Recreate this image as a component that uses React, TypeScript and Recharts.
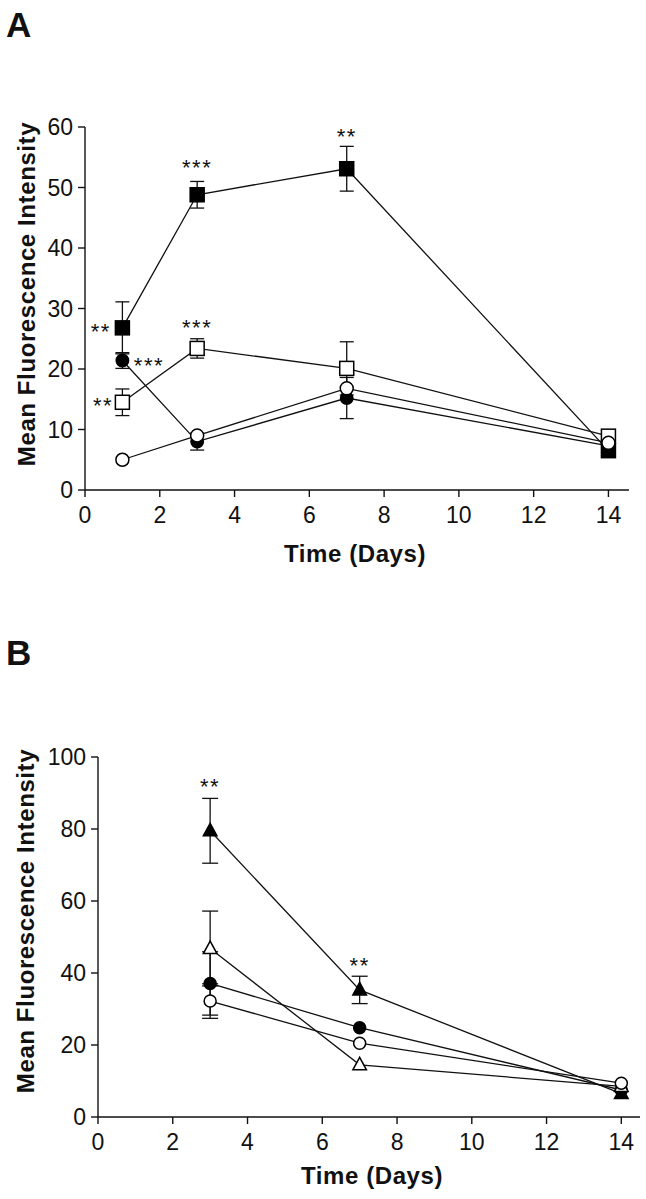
import React from "react";
import {
  ComposedChart,
  Line,
  Scatter,
  XAxis,
  YAxis,
  ErrorBar,
} from "recharts";

const FONT = "'Liberation Sans', Arial, Helvetica, sans-serif";

// Panel A
const daysA = [1, 3, 7, 14];
const aFilledSquare = [26.8, 48.8, 53.1, 6.5];
const aFilledSquareErr = [4.3, 2.2, 3.7, null];
const aFilledCircle = [21.4, 8.0, 15.2, 7.3];
const aFilledCircleErr = [1.3, 1.4, 3.4, null];
const aOpenSquare = [14.5, 23.4, 20.1, 8.9];
const aOpenSquareErr = [2.2, 1.6, 4.4, null];
const aOpenCircle = [5.0, 9.0, 16.8, 7.8];
const aOpenCircleErr = [null, null, null, null];
const aTicksX = [0, 2, 4, 6, 8, 10, 12, 14];
const aTicksY = [0, 10, 20, 30, 40, 50, 60];
const aStarX = [0.42, 1.71, 0.48, 3, 3, 7];
const aStarY = [26.9, 21.4, 14.7, 54.0, 27.65, 59.2];
const aStarText = ["**", "***", "**", "***", "***", "**"];

// Panel B
const daysB = [3, 7, 14];
const bFilledTriangle = [79.5, 35.3, 6.5];
const bFilledTriangleErr = [9.0, 3.8, null];
const bOpenTriangle = [46.8, 14.5, 8.5];
const bOpenTriangleErr = [10.4, null, null];
const bFilledCircle = [37.1, 24.8, 7.5];
const bFilledCircleErr = [8.8, null, null];
const bOpenCircle = [32.2, 20.5, 9.4];
const bOpenCircleErr = [4.8, null, null];
const bTicksX = [0, 2, 4, 6, 8, 10, 12, 14];
const bTicksY = [0, 20, 40, 60, 80, 100];
const bStarX = [3, 7];
const bStarY = [93.1, 43.3];
const bStarText = ["**", "**"];

function points(days: number[], ys: number[], errs: (number | null)[]) {
  return days.map((x, i) => ({ x, y: ys[i], err: errs[i] }));
}

function stars(xs: number[], ys: number[], texts: string[]) {
  return xs.map((x, i) => ({ x, y: ys[i], text: texts[i] }));
}

const squareDot = (fill: string) => (p: any) => (
  <rect
    key={p.index}
    x={p.cx - 7}
    y={p.cy - 7}
    width={14}
    height={14}
    fill={fill}
    stroke="#000"
    strokeWidth={1.5}
  />
);

const circleDot = (fill: string, r: number) => (p: any) => (
  <circle key={p.index} cx={p.cx} cy={p.cy} r={r} fill={fill} stroke="#000" strokeWidth={1.5} />
);

const triangleDot = (fill: string) => (p: any) => (
  <path
    key={p.index}
    d={`M${p.cx},${p.cy - 7.5} L${p.cx - 6.8},${p.cy + 5} L${p.cx + 6.8},${p.cy + 5} Z`}
    fill={fill}
    stroke="#000"
    strokeWidth={1.5}
  />
);

const starShape = (p: any) => (
  <text
    x={p.cx}
    y={p.cy + 12}
    textAnchor="middle"
    fontSize={22}
    fontFamily={FONT}
    fill="#111"
    letterSpacing={1.5}
  >
    {p.payload.text}
  </text>
);

const TICK_SIZE = 23;

const xTick = (p: any) => (
  <text
    x={p.x}
    y={p.y + TICK_SIZE * 0.72}
    textAnchor="middle"
    fontSize={TICK_SIZE}
    fontFamily={FONT}
    fill="#111"
  >
    {p.payload.value}
  </text>
);

const yTick = (p: any) => (
  <text
    x={p.x}
    y={p.y + TICK_SIZE * 0.36}
    textAnchor="end"
    fontSize={TICK_SIZE}
    fontFamily={FONT}
    fill="#111"
  >
    {p.payload.value}
  </text>
);

const axisLine = { stroke: "#111", strokeWidth: 1.4 };

function renderSeries(
  key: string,
  data: { x: number; y: number; err: number | null }[],
  dot: any,
  cap: number
) {
  return (
    <Line
      key={key}
      data={data}
      dataKey="y"
      type="linear"
      stroke="#111"
      strokeWidth={1.3}
      dot={dot}
      activeDot={false}
      isAnimationActive={false}
    >
      <ErrorBar
        dataKey="err"
        direction="y"
        width={cap}
        stroke="#111"
        strokeWidth={1.3}
        isAnimationActive={false}
      />
    </Line>
  );
}

function PanelA() {
  return (
    <ComposedChart
      width={646}
      height={600}
      margin={{ top: 127, right: 17, bottom: 80, left: 25 }}
    >
      <XAxis
        dataKey="x"
        type="number"
        domain={[0, 14.55]}
        ticks={aTicksX}
        interval={0}
        height={30}
        tickSize={7}
        tickMargin={9}
        tick={xTick}
        axisLine={axisLine}
        tickLine={axisLine}
        allowDataOverflow
      />
      <YAxis
        dataKey="y"
        type="number"
        domain={[0, 60]}
        ticks={aTicksY}
        interval={0}
        width={60}
        tickSize={7}
        tickMargin={5}
        tick={yTick}
        axisLine={axisLine}
        tickLine={axisLine}
        allowDataOverflow
      />
      {renderSeries("fs", points(daysA, aFilledSquare, aFilledSquareErr), squareDot("#000"), 7)}
      {renderSeries("fc", points(daysA, aFilledCircle, aFilledCircleErr), circleDot("#000", 6.2), 7)}
      {renderSeries("os", points(daysA, aOpenSquare, aOpenSquareErr), squareDot("#fff"), 7)}
      {renderSeries("oc", points(daysA, aOpenCircle, aOpenCircleErr), circleDot("#fff", 6.5), 7)}
      <Scatter
        data={stars(aStarX, aStarY, aStarText)}
        dataKey="y"
        shape={starShape}
        isAnimationActive={false}
      />
    </ComposedChart>
  );
}

function PanelB() {
  return (
    <ComposedChart
      width={646}
      height={599}
      margin={{ top: 157, right: 6, bottom: 52, left: 38 }}
    >
      <XAxis
        dataKey="x"
        type="number"
        domain={[0, 14.5]}
        ticks={bTicksX}
        interval={0}
        height={30}
        tickSize={7}
        tickMargin={9}
        tick={xTick}
        axisLine={axisLine}
        tickLine={axisLine}
        allowDataOverflow
      />
      <YAxis
        dataKey="y"
        type="number"
        domain={[0, 100]}
        ticks={bTicksY}
        interval={0}
        width={60}
        tickSize={7}
        tickMargin={5}
        tick={yTick}
        axisLine={axisLine}
        tickLine={axisLine}
        allowDataOverflow
      />
      {renderSeries("ft", points(daysB, bFilledTriangle, bFilledTriangleErr), triangleDot("#000"), 8)}
      {renderSeries("fc", points(daysB, bFilledCircle, bFilledCircleErr), circleDot("#000", 6), 8)}
      {renderSeries("ot", points(daysB, bOpenTriangle, bOpenTriangleErr), triangleDot("#fff"), 8)}
      {renderSeries("oc", points(daysB, bOpenCircle, bOpenCircleErr), circleDot("#fff", 6), 8)}
      <Scatter
        data={stars(bStarX, bStarY, bStarText)}
        dataKey="y"
        shape={starShape}
        isAnimationActive={false}
      />
    </ComposedChart>
  );
}

export default function App() {
  const title = {
    fontFamily: FONT,
    fontWeight: 700,
    fontSize: 24,
    fill: "#111",
    letterSpacing: 0.6,
  } as const;
  return (
    <div
      style={{
        position: "absolute",
        left: 0,
        top: 0,
        width: 646,
        height: 1199,
        background: "#fff",
        overflow: "hidden",
      }}
    >
      <div style={{ position: "absolute", left: 0, top: 0 }}>
        <PanelA />
      </div>
      <div style={{ position: "absolute", left: 0, top: 600 }}>
        <PanelB />
      </div>
      <svg
        width={646}
        height={1199}
        style={{ position: "absolute", left: 0, top: 0, pointerEvents: "none" }}
      >
        <text x={6} y={37} fontFamily={FONT} fontWeight={700} fontSize={35} fill="#111">
          A
        </text>
        <text x={6} y={665} fontFamily={FONT} fontWeight={700} fontSize={35} fill="#111">
          B
        </text>
        <text {...title} x={355} y={562} textAnchor="middle">
          Time (Days)
        </text>
        <text {...title} x={372} y={1184} textAnchor="middle">
          Time (Days)
        </text>
        <text {...title} textAnchor="middle" transform="translate(35,294) rotate(-90)">
          Mean Fluorescence Intensity
        </text>
        <text {...title} textAnchor="middle" transform="translate(34,921) rotate(-90)">
          Mean Fluorescence Intensity
        </text>
      </svg>
    </div>
  );
}
